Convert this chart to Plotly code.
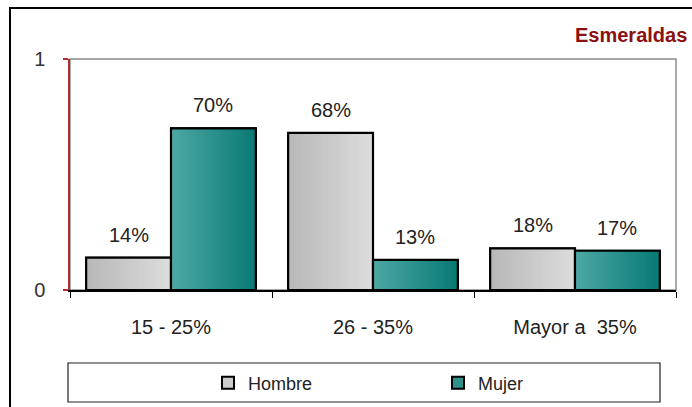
import plotly.graph_objects as go

# Data
categories = ["15 - 25%", "26 - 35%", "Mayor a  35%"]
series_names = ["Hombre", "Mujer"]
hombre = [0.14, 0.68, 0.18]
mujer = [0.70, 0.13, 0.17]
y_ticks = [0, 1]
y_tick_labels = ["0", "1"]
title_text = "Esmeraldas"

FONT = "Liberation Sans, Arial, sans-serif"
W, H = 692, 407
ML, MR, MT, MB = 70, 16, 59, 117
PW, PH = W - ML - MR, H - MT - MB


def px_x(p):
    return (p - ML) / PW


def px_y(p):
    return (H - MB - p) / PH


def lerp(c1, c2, t):
    return "rgb(%d,%d,%d)" % tuple(round(a + (b - a) * t) for a, b in zip(c1, c2))


BW = 0.42  # width of one bar in category units
N_STRIPS = 28
idx = list(range(len(categories)))

series = [
    dict(name=series_names[0], vals=hombre, off=-BW,
         c_left=(184, 184, 184), c_right=(220, 220, 220), mid="#cccccc"),
    dict(name=series_names[1], vals=mujer, off=0.0,
         c_left=(76, 168, 164), c_right=(10, 122, 116), mid="#2f918c"),
]

fig = go.Figure()

for s in series:
    # solid base bar (also provides the legend swatch)
    fig.add_trace(go.Bar(
        x=idx, y=s["vals"], width=BW, offset=s["off"], name=s["name"],
        marker=dict(color=s["mid"], line=dict(color="black", width=2)),
        hoverinfo="skip",
    ))
    # horizontal gradient built from overlapping strips
    step = BW / N_STRIPS
    for i in range(N_STRIPS):
        fig.add_trace(go.Bar(
            x=idx, y=s["vals"], width=BW - i * step, offset=s["off"] + i * step,
            marker=dict(color=lerp(s["c_left"], s["c_right"], i / (N_STRIPS - 1)),
                        line=dict(width=0)),
            showlegend=False, hoverinfo="skip",
        ))
    # black outline on top
    fig.add_trace(go.Bar(
        x=idx, y=s["vals"], width=BW, offset=s["off"],
        marker=dict(color="rgba(0,0,0,0)", line=dict(color="black", width=2.2)),
        showlegend=False, hoverinfo="skip",
    ))

annotations = []
for s in series:
    for i, v in zip(idx, s["vals"]):
        annotations.append(dict(
            x=i + s["off"] + BW / 2, y=v, xref="x", yref="y",
            text=f"{round(v * 100)}%", showarrow=False,
            yanchor="bottom", yshift=10,
            font=dict(family=FONT, size=20, color="#222222"),
        ))

annotations.append(dict(
    x=px_x(689), y=px_y(35), xref="paper", yref="paper",
    xanchor="right", yanchor="middle", text=f"<b>{title_text}</b>",
    showarrow=False, font=dict(family=FONT, size=20, color="#8b1010"),
))

shapes = [
    # plot area frame (top / right in grey)
    dict(type="rect", xref="paper", yref="paper", x0=0, x1=1, y0=0, y1=1,
         line=dict(color="#8c8c8c", width=1.5), layer="below"),
    # legend frame
    dict(type="rect", xref="paper", yref="paper",
         x0=px_x(68), x1=px_x(660), y0=px_y(402), y1=px_y(363),
         line=dict(color="#222222", width=1.2)),
    # outer chart border
    dict(type="rect", xref="paper", yref="paper",
         x0=px_x(10), x1=px_x(720), y0=px_y(430), y1=px_y(8),
         line=dict(color="black", width=2)),
]

fig.update_layout(
    width=W, height=H,
    margin=dict(l=ML, r=MR, t=MT, b=MB, autoexpand=False),
    paper_bgcolor="white", plot_bgcolor="white",
    barmode="overlay",
    font=dict(family=FONT, color="#222222"),
    showlegend=True,
    legend=dict(
        orientation="h", x=px_x(208), y=px_y(383), xanchor="left", yanchor="middle",
        font=dict(family=FONT, size=18, color="#222222"),
        entrywidth=185, entrywidthmode="pixels",
        bgcolor="rgba(0,0,0,0)", borderwidth=0, traceorder="normal",
    ),
    annotations=annotations,
    shapes=shapes,
)

fig.update_xaxes(
    range=[-0.5, len(categories) - 0.5],
    tickvals=idx, ticktext=categories, ticks="",
    tickfont=dict(family=FONT, size=20, color="#222222"),
    ticklabelstandoff=18,
    showline=True, linecolor="black", linewidth=1.5,
    showgrid=False, zeroline=False,
    minor=dict(tickvals=[i - 0.5 for i in range(len(categories) + 1)],
               ticks="outside", ticklen=6, tickcolor="black", tickwidth=1.2),
)

fig.update_yaxes(
    range=[0, 1],
    tickvals=y_ticks, ticktext=y_tick_labels,
    ticks="outside", ticklen=5, tickcolor="#b03030", tickwidth=1.5,
    tickfont=dict(family=FONT, size=20, color="#333333"),
    ticklabelstandoff=14,
    showline=True, linecolor="#b03030", linewidth=1.5,
    showgrid=False, zeroline=False,
)

fig.write_html("out.html")
